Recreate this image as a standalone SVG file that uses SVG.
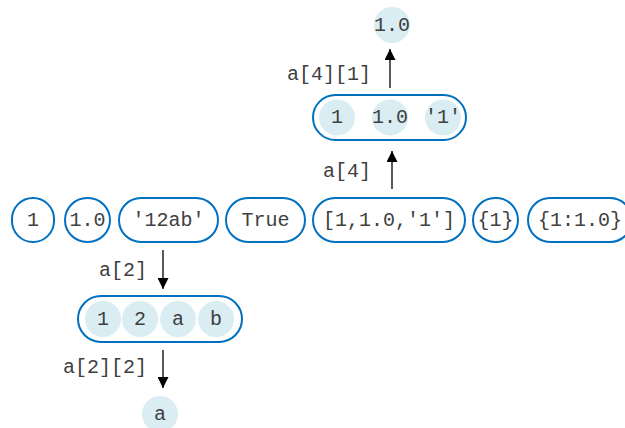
<svg xmlns="http://www.w3.org/2000/svg" width="625" height="428" viewBox="0 0 625 428">
<defs>
<marker id="ah" viewBox="0 0 10 10" refX="10" refY="5" markerWidth="12" markerHeight="11" markerUnits="userSpaceOnUse" orient="auto"><path d="M0,0 L10,5 L0,10 z" fill="#000"/></marker>
</defs>
<style>
.box{fill:#fff;stroke:#0070c0;stroke-width:2}
.cell{fill:#daedf3;stroke:none}
.t{font-family:"Liberation Mono","Courier New",monospace;font-size:20px;fill:#404040;text-anchor:middle;dominant-baseline:central}
.lbl{font-family:"Liberation Mono","Courier New",monospace;font-size:20px;fill:#404040;text-anchor:end;dominant-baseline:central}
.c{stroke:#000;stroke-width:1.3;fill:none;marker-end:url(#ah)}
</style>
<rect width="625" height="428" fill="#fff"/>
<g id="n1"><rect class="box" x="12" y="198" width="42" height="44" rx="21"/><text class="t" x="33" y="220">1</text></g>
<g id="n2"><rect class="box" x="65" y="198" width="45" height="44" rx="22"/><text class="t" x="87.5" y="220">1.0</text></g>
<g id="n3"><rect class="box" x="119" y="198" width="99" height="44" rx="22"/><text class="t" x="168.5" y="220">'12ab'</text></g>
<g id="n4"><rect class="box" x="226" y="198" width="79" height="44" rx="22"/><text class="t" x="265.5" y="220">True</text></g>
<g id="n5"><rect class="box" x="313" y="198" width="152" height="44" rx="22"/><text class="t" x="389" y="220">[1,1.0,'1']</text></g>
<g id="n6"><rect class="box" x="473" y="198" width="45" height="44" rx="22"/><text class="t" x="495.5" y="220">{1}</text></g>
<g id="n7"><rect class="box" x="528" y="198" width="104" height="44" rx="22"/><text class="t" x="580" y="220">{1:1.0}</text></g>
<g id="list4">
<rect class="box" x="313" y="95" width="153" height="45" rx="22.5"/>
<circle class="cell" cx="337" cy="117.5" r="18"/><text class="t" x="337" y="117.5">1</text>
<circle class="cell" cx="390" cy="117.5" r="18"/><text class="t" x="390" y="117.5">1.0</text>
<circle class="cell" cx="443" cy="117.5" r="18"/><text class="t" x="443" y="117.5">'1'</text>
</g>
<g id="elem41"><circle class="cell" cx="392" cy="25" r="18"/><text class="t" x="392" y="25">1.0</text></g>
<g id="str2">
<rect class="box" x="78" y="296" width="164" height="46" rx="23"/>
<circle class="cell" cx="103" cy="319" r="18"/><text class="t" x="103" y="319">1</text>
<circle class="cell" cx="140" cy="319" r="18"/><text class="t" x="140" y="319">2</text>
<circle class="cell" cx="178" cy="319" r="18"/><text class="t" x="178" y="319">a</text>
<circle class="cell" cx="216" cy="319" r="18"/><text class="t" x="216" y="319">b</text>
</g>
<g id="elem22"><circle class="cell" cx="160" cy="414" r="18"/><text class="t" x="160" y="414">a</text></g>
<g id="connectors">
<line class="c" x1="390" y1="88" x2="390" y2="49"/>
<line class="c" x1="392" y1="189" x2="392" y2="151"/>
<line class="c" x1="163" y1="250" x2="163" y2="289"/>
<line class="c" x1="163" y1="350" x2="163" y2="388"/>
<text class="lbl" x="371" y="74">a[4][1]</text>
<text class="lbl" x="371" y="171">a[4]</text>
<text class="lbl" x="147" y="270">a[2]</text>
<text class="lbl" x="147" y="367">a[2][2]</text>
</g>
</svg>
